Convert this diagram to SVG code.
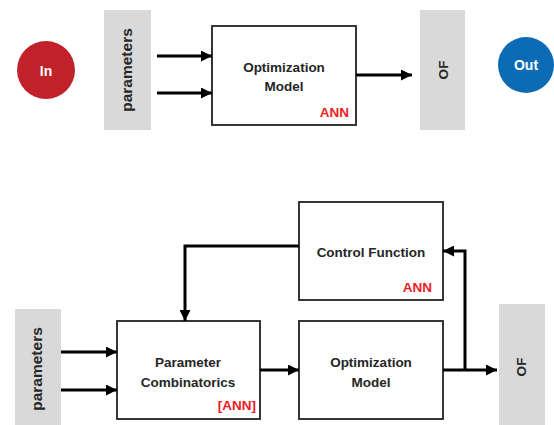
<svg xmlns="http://www.w3.org/2000/svg" width="554" height="425" viewBox="0 0 554 425">
<defs>
<marker id="ah" viewBox="0 0 10 10" refX="10" refY="5" markerWidth="11" markerHeight="11" markerUnits="userSpaceOnUse" orient="auto">
<path d="M0,0 L10,5 L0,10 z" fill="#000"/>
</marker>
<style>
.box{fill:#fff;stroke:#222;stroke-width:1.8}
.gray{fill:#d9d9d9}
.t{font-family:"Liberation Sans",Arial,sans-serif;font-weight:bold;font-size:13.5px;fill:#262626;text-anchor:middle}
.p{font-family:"Liberation Sans",Arial,sans-serif;font-weight:bold;font-size:15.5px;fill:#262626;text-anchor:middle}
.ann{font-family:"Liberation Sans",Arial,sans-serif;font-weight:bold;font-size:13.5px;fill:#ee1c25;text-anchor:end}
.w{font-family:"Liberation Sans",Arial,sans-serif;font-weight:bold;font-size:14px;fill:#fff;text-anchor:middle}
.c{fill:none;stroke:#000;stroke-width:3}
</style>
</defs>
<g id="in"><circle cx="46" cy="70" r="29" fill="#c0212a"/><text class="w" x="46" y="76">In</text></g>
<g id="params-top"><rect class="gray" x="104" y="10" width="47" height="120"/><text class="p" transform="translate(132,70) rotate(-90)">parameters</text></g>
<g id="opt-top"><rect class="box" x="212" y="26" width="144" height="99"/><text class="t" x="284" y="72">Optimization</text><text class="t" x="284" y="91">Model</text><text class="ann" x="349" y="117">ANN</text></g>
<g id="of-top"><rect class="gray" x="420" y="10" width="45" height="120"/><text class="t" transform="translate(448,70) rotate(-90)">OF</text></g>
<g id="out"><circle cx="526" cy="65" r="28" fill="#0b6bb5"/><text class="w" x="526" y="70">Out</text></g>
<g id="params-bot"><rect class="gray" x="15" y="309" width="46" height="116"/><text class="p" transform="translate(42,369) rotate(-90)">parameters</text></g>
<g id="param-comb"><rect class="box" x="117" y="321" width="143" height="98"/><text class="t" x="188" y="367">Parameter</text><text class="t" x="188" y="387">Combinatorics</text><text class="ann" x="256" y="410">[ANN]</text></g>
<g id="control"><rect class="box" x="299" y="202" width="144" height="98"/><text class="t" x="371" y="257">Control Function</text><text class="ann" x="432" y="292">ANN</text></g>
<g id="opt-bot"><rect class="box" x="299" y="321" width="144" height="98"/><text class="t" x="371" y="367">Optimization</text><text class="t" x="371" y="387">Model</text></g>
<g id="of-bot"><rect class="gray" x="499" y="304" width="46" height="121"/><text class="t" transform="translate(526,367) rotate(-90)">OF</text></g>
<g id="connectors">
<line class="c" x1="157" y1="56" x2="212" y2="56" marker-end="url(#ah)"/>
<line class="c" x1="157" y1="93" x2="212" y2="93" marker-end="url(#ah)"/>
<line class="c" x1="356" y1="75" x2="412" y2="75" marker-end="url(#ah)"/>
<line class="c" x1="61" y1="352" x2="117" y2="352" marker-end="url(#ah)"/>
<line class="c" x1="61" y1="390" x2="117" y2="390" marker-end="url(#ah)"/>
<line class="c" x1="260" y1="370" x2="299" y2="370" marker-end="url(#ah)"/>
<line class="c" x1="443" y1="370" x2="497" y2="370" marker-end="url(#ah)"/>
<polyline class="c" points="465,370 465,251 443,251" marker-end="url(#ah)"/>
<polyline class="c" points="299,246 185,246 185,321" marker-end="url(#ah)"/>
</g>
</svg>
